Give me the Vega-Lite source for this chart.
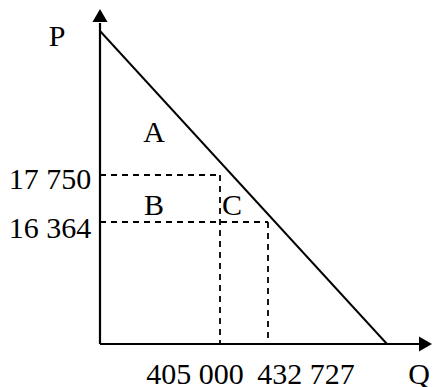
{
  "$schema": "https://vega.github.io/schema/vega-lite/v6.json",
  "width": 333,
  "height": 336,
  "autosize": {"type": "none"},
  "padding": {"left": 100, "top": 8, "right": 0, "bottom": 43},
  "background": "white",
  "config": {"view": {"stroke": null}},
  "datasets": {
    "axes": [
      {"q": 0, "p": 0, "q2": 0, "p2": 321},
      {"q": 0, "p": 0, "q2": 320, "p2": 0}
    ],
    "arrows": [
      {"q": 0, "p": 328.5, "dir": "up"},
      {"q": 325.5, "p": 0, "dir": "right"}
    ],
    "demand": [
      {"q": 0, "p": 313},
      {"q": 287, "p": 0}
    ],
    "guides": [
      {"q": 0, "p": 169, "q2": 120, "p2": 169},
      {"q": 120, "p": 169, "q2": 120, "p2": 0},
      {"q": 0, "p": 122, "q2": 168, "p2": 122},
      {"q": 168, "p": 122, "q2": 168, "p2": 0}
    ],
    "labels": [
      {"label": "P", "q": -43, "p": 298},
      {"label": "Q", "q": 319, "p": -40},
      {"label": "17 750", "q": -50, "p": 155},
      {"label": "16 364", "q": -50, "p": 106},
      {"label": "405 000", "q": 95, "p": -40},
      {"label": "432 727", "q": 206, "p": -40},
      {"label": "A", "q": 54, "p": 202},
      {"label": "B", "q": 54, "p": 129},
      {"label": "C", "q": 132, "p": 129}
    ]
  },
  "layer": [
    {
      "data": {"name": "guides"},
      "mark": {"type": "rule", "color": "black", "strokeWidth": 1.8, "strokeDash": [6, 5]},
      "encoding": {
        "x": {"field": "q", "type": "quantitative", "scale": {"domain": [0, 333], "nice": false, "zero": false}, "axis": null},
        "y": {"field": "p", "type": "quantitative", "scale": {"domain": [0, 336], "nice": false, "zero": false}, "axis": null},
        "x2": {"field": "q2"},
        "y2": {"field": "p2"}
      }
    },
    {
      "data": {"name": "demand"},
      "mark": {"type": "line", "color": "black", "strokeWidth": 1.9},
      "encoding": {
        "x": {"field": "q", "type": "quantitative", "axis": null},
        "y": {"field": "p", "type": "quantitative", "axis": null}
      }
    },
    {
      "data": {"name": "axes"},
      "mark": {"type": "rule", "color": "black", "strokeWidth": 2.2},
      "encoding": {
        "x": {"field": "q", "type": "quantitative", "axis": null},
        "y": {"field": "p", "type": "quantitative", "axis": null},
        "x2": {"field": "q2"},
        "y2": {"field": "p2"}
      }
    },
    {
      "data": {"name": "arrows"},
      "mark": {"type": "point", "filled": true, "color": "black", "opacity": 1, "size": 225},
      "encoding": {
        "x": {"field": "q", "type": "quantitative", "axis": null},
        "y": {"field": "p", "type": "quantitative", "axis": null},
        "shape": {"field": "dir", "type": "nominal", "scale": {"domain": ["up", "right"], "range": ["triangle-up", "triangle-right"]}, "legend": null}
      }
    },
    {
      "data": {"name": "labels"},
      "mark": {"type": "text", "font": "Liberation Serif", "fontSize": 30, "color": "black", "align": "center", "baseline": "alphabetic"},
      "encoding": {
        "x": {"field": "q", "type": "quantitative", "axis": null},
        "y": {"field": "p", "type": "quantitative", "axis": null},
        "text": {"field": "label", "type": "nominal"}
      }
    }
  ]
}
